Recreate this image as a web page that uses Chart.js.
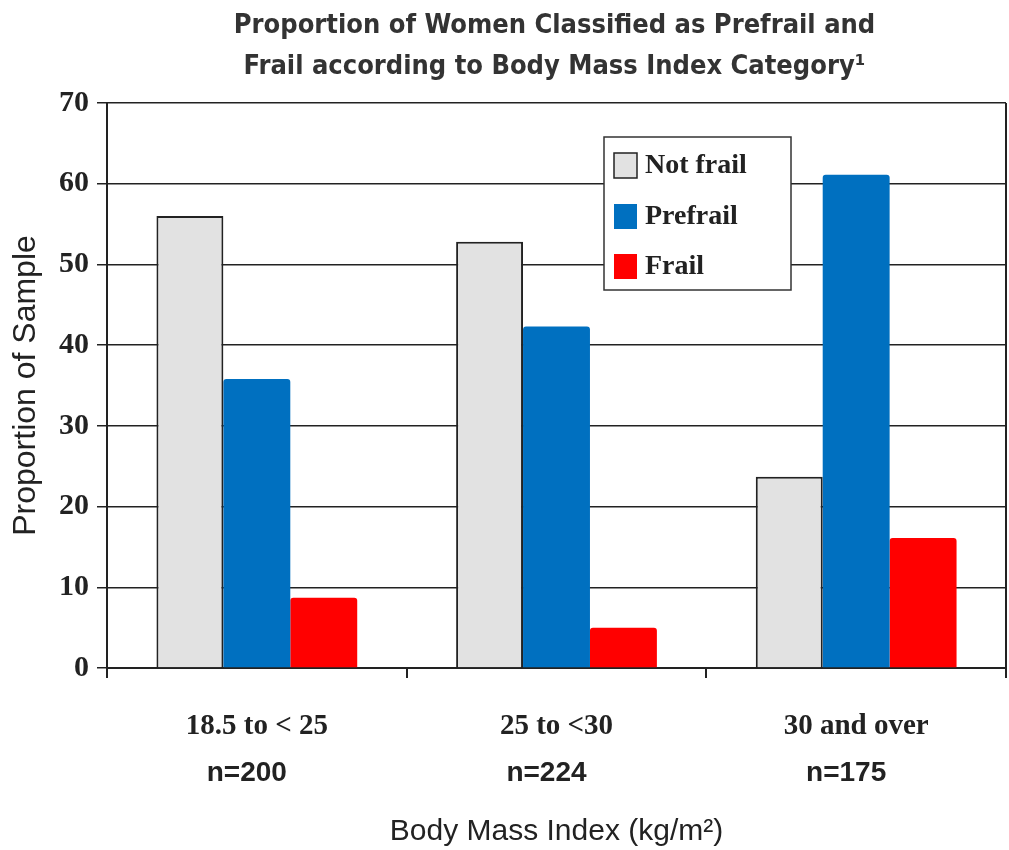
<!DOCTYPE html>
<html>
<head>
<meta charset="utf-8">
<script src="https://cdn.jsdelivr.net/npm/chart.js@4/dist/chart.umd.min.js"></script>
<style>
  html, body { margin: 0; padding: 0; background: #fff; }
  #wrap { width: 1009px; height: 850px; }
</style>
</head>
<body>
<div id="wrap"><canvas id="frailChart"></canvas></div>
<script>
// data
const categories = ['18.5 to < 25', '25 to <30', '30 and over'];
const sampleSizes = ['n=200', 'n=224', 'n=175'];
const notFrail = [56, 52.8, 23.7];
const prefrail = [35.8, 42.3, 61.1];
const frail = [8.7, 5, 16.1];
const yTicks = [0, 10, 20, 30, 40, 50, 60, 70];
const titleLines = ['Proportion of Women Classified as Prefrail and', 'Frail according to Body Mass Index Category\u00b9'];

const serif = "'Liberation Serif', 'Times New Roman', serif";
const sans = "'Liberation Sans', Arial, sans-serif";
const narrow = "'Liberation Sans Narrow', 'DejaVu Sans Condensed', sans-serif";

// title over the plot, legend box inside it, right border, n= line under the labels
const extras = {
    id: 'extras',
    afterDatasetsDraw(chart) {
        const ctx = chart.ctx;
        const area = chart.chartArea;
        ctx.save();
        // title, centred on the plot area
        ctx.fillStyle = '#333';
        ctx.font = 'bold 27px ' + narrow;
        ctx.textAlign = 'center';
        ctx.textBaseline = 'middle';
        const cx = (area.left + area.right) / 2;
        titleLines.forEach((t, i) => ctx.fillText(t, cx - 2, 26 + i * 41));

        // right border of the plot
        ctx.strokeStyle = '#222';
        ctx.lineWidth = 2;
        ctx.beginPath();
        ctx.moveTo(area.right, area.top);
        ctx.lineTo(area.right, area.bottom + 10);
        ctx.stroke();

        // legend
        ctx.fillStyle = '#fff';
        ctx.fillRect(604, 137, 187, 153);
        ctx.strokeStyle = '#333';
        ctx.lineWidth = 1.5;
        ctx.strokeRect(604, 137, 187, 153);
        const rows = [165, 216, 266];
        chart.data.datasets.forEach((ds, i) => {
            const y = rows[i];
            ctx.fillStyle = ds.backgroundColor;
            ctx.fillRect(614, y - 12, 23, 25);
            if (ds.borderWidth) {
                ctx.strokeStyle = '#222';
                ctx.lineWidth = 1.5;
                ctx.strokeRect(614, y - 12, 23, 25);
            }
            ctx.fillStyle = '#222';
            ctx.font = 'bold 28px ' + serif;
            ctx.textBaseline = 'middle';
            ctx.textAlign = 'left';
            ctx.fillText(ds.label, 645, y + 1);
        });

        // second line of the category labels
        const xs = chart.scales.x;
        ctx.font = 'bold 28px ' + sans;
        ctx.fillStyle = '#222';
        ctx.textAlign = 'center';
        ctx.textBaseline = 'middle';
        sampleSizes.forEach((s, i) => {
            ctx.fillText(s, xs.getPixelForValue(i) - 10, 773);
        });
        ctx.restore();
    }
};

new Chart(document.getElementById('frailChart'), {
    type: 'bar',
    data: {
        labels: categories,
        datasets: [
            {
                label: 'Not frail',
                data: notFrail,
                backgroundColor: '#e2e2e2',
                borderColor: '#222',
                borderWidth: 2
            },
            {
                label: 'Prefrail',
                data: prefrail,
                backgroundColor: '#0070c0',
                borderWidth: 0,
                borderRadius: 3
            },
            {
                label: 'Frail',
                data: frail,
                backgroundColor: '#ff0000',
                borderWidth: 0,
                borderRadius: 3
            }
        ]
    },
    options: {
        responsive: true,
        maintainAspectRatio: false,
        animation: false,
        categoryPercentage: 0.67,
        barPercentage: 1.0,
        layout: { padding: { left: 0, right: 3, top: 103, bottom: 0 } },
        plugins: {
            legend: { display: false },
            tooltip: { enabled: false },
            title: { display: false }
        },
        scales: {
            x: {
                afterFit(scale) { scale.height = 182; },
                grid: {
                    offset: true,
                    drawOnChartArea: false,
                    drawTicks: true,
                    tickLength: 10,
                    color: '#222',
                    lineWidth: 2
                },
                border: { display: true, color: '#222', width: 2 },
                ticks: {
                    color: '#222',
                    font: { family: serif, size: 29, weight: 'bold' },
                    padding: 31,
                    maxRotation: 0
                },
                title: {
                    display: true,
                    text: 'Body Mass Index (kg/m\u00b2)',
                    color: '#222',
                    font: { family: sans, size: 30 },
                    padding: 0
                }
            },
            y: {
                min: 0,
                max: 70,
                afterFit(scale) { scale.width = 107; },
                afterBuildTicks(scale) { scale.ticks = yTicks.map(v => ({ value: v })); },
                grid: {
                    color: '#222',
                    lineWidth: 1.5,
                    tickLength: 10
                },
                border: { display: true, color: '#222', width: 2 },
                ticks: {
                    color: '#222',
                    font: { family: serif, size: 30, weight: 'bold' },
                    padding: 8
                },
                title: {
                    display: true,
                    text: 'Proportion of Sample',
                    color: '#222',
                    font: { family: sans, size: 32 },
                    padding: { top: 7, bottom: 0 }
                }
            }
        }
    },
    plugins: [extras]
});
</script>
</body>
</html>
